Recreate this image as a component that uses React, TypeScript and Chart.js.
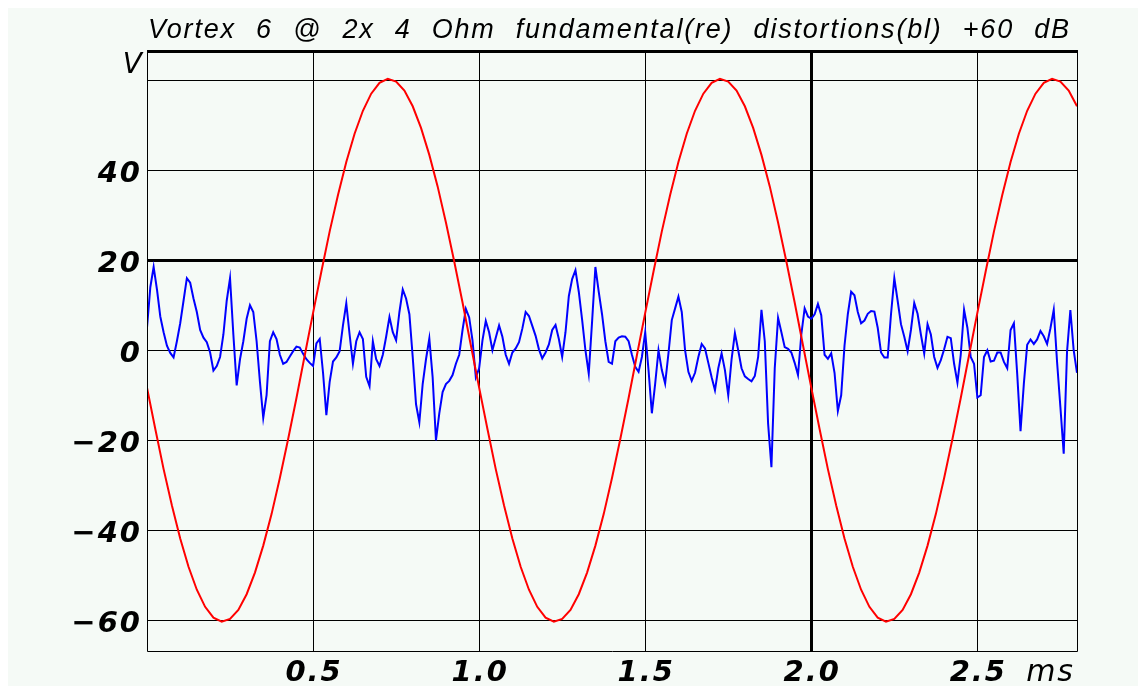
import { useEffect, useRef } from "react";
import { Chart, registerables } from "chart.js";

Chart.register(...registerables);

// ---- text ----
const TITLE = "Vortex 6 @ 2x 4 Ohm fundamental(re) distortions(bl) +60 dB";
const Y_UNIT = "V";
const X_UNIT = "ms";

// ---- axes ----
const X_MIN = 0;
const X_MAX = 2.8;
const Y_MIN = -66.7;
const Y_MAX = 66.7;
const X_TICKS = [0.5, 1.0, 1.5, 2.0, 2.5];
const X_TICK_LABELS = ["0.5", "1.0", "1.5", "2.0", "2.5"];
const Y_TICKS = [-60, -40, -20, 0, 20, 40, 60];
const Y_LABEL_TICKS = [-60, -40, -20, 0, 20, 40];
const Y_TICK_LABELS = ["\u221260", "\u221240", "\u221220", "0", "20", "40"];
const X_BOLD_TICK = 2.0;
const Y_BOLD_TICK = 20;

// ---- series ----
// fundamental (red), sampled every 0.025 ms, values in V read off the picture
const FUND_STEP_MS = 0.025;
const fundamental = [
  -8.3, -17.5, -26.4, -34.5, -41.8, -48.1, -53.2, -57.0, -59.4, -60.3,
  -59.7, -57.7, -54.2, -49.4, -43.4, -36.4, -28.4, -19.7, -10.6, -1.1,
  8.3, 17.5, 26.4, 34.5, 41.8, 48.1, 53.2, 57.0, 59.4, 60.3,
  59.7, 57.7, 54.2, 49.4, 43.4, 36.4, 28.4, 19.7, 10.6, 1.1,
  -8.3, -17.5, -26.4, -34.5, -41.8, -48.1, -53.2, -57.0, -59.4, -60.3,
  -59.7, -57.7, -54.2, -49.4, -43.4, -36.4, -28.4, -19.7, -10.6, -1.1,
  8.3, 17.5, 26.4, 34.5, 41.8, 48.1, 53.2, 57.0, 59.4, 60.3,
  59.7, 57.7, 54.2, 49.4, 43.4, 36.4, 28.4, 19.7, 10.6, 1.1,
  -8.3, -17.5, -26.4, -34.5, -41.8, -48.1, -53.2, -57.0, -59.4, -60.3,
  -59.7, -57.7, -54.2, -49.4, -43.4, -36.4, -28.4, -19.7, -10.6, -1.1,
  8.3, 17.5, 26.4, 34.5, 41.8, 48.1, 53.2, 57.0, 59.4, 60.3,
  59.7, 57.7, 54.2,
];

// distortions (blue, +60 dB), sampled every 0.01 ms
const DIST_STEP_MS = 0.01;
const distortions = [
  5, 14, 18.5, 13.5, 7.5, 4, 1, -0.6, -1.6, 2,
  6, 11, 16, 15, 11.5, 8.5, 4.5, 2.8, 1.8, -0.5,
  -4.5, -3.5, -1.5, 3.5, 11, 16, 3.5, -7.8, -2, 2,
  7, 10, 8.5, 2, -7, -15,
  -10, 2, 4, 2.5, -1, -3, -2.6, -1.4, -0.2, 0.8,
  0.6, -0.8, -2, -2.8, -3.5, 1.5, 2.5, -5, -14.4, -7,
  -2.5, -1.6, -0.2, 5.5, 10.4, 3.5, -3, 2, 4, 2.5,
  -5.9, -8, 2, -2, -3.5, -1,
  3, 7.4, 4, 2.2, 8.5, 13.5, 11.5, 8, -1.5, -12,
  -16, -7.5, -2, 2.6, -6, -20, -14, -9.3, -7.5, -6.8,
  -5.5, -3, -1, 4.5, 9.2, 7.3, 2.2, -6, -4, 2.2,
  6.5, 4, 0, 2.8, 5.5, 3,
  -1, -3, -0.5, 0.4, 1.8, 4.8, 8.5, 7.6, 5.4, 3.2,
  0.2, -1.8, -0.5, 1.3, 4.5, 5.6, 2.5, -1.5, 4, 12,
  15.8, 17.8, 13, 6.8, 0, -5.2, 6.3, 18.5, 13, 8,
  2, -2.6, -3, 2, 2.8, 3.1,
  3, 2, -1, -3.7, -4.8, -1.5, 4, -4.4, -14, -7.4,
  0, -4.4, -7.4, -0.7, 6.7, 9.3, 11.9, 8.5, 0, -4.8,
  -6.8, -5, -1.5, 1.4, 0.4, -2.8, -6, -8.9, -4, -0.7,
  -4.4, -10, -2, 3.8, 0, -4,
  -5.8, -6.4, -6.9, -5.7, -1.5, 9, 2, -16.3, -26, -4,
  7.2, 4, 0.7, 0.3, -0.5, -2.8, -5.5, 3.5, 9.3, 7.5,
  7, 8, 10.3, 7.8, -1, -1.9, -0.7, -5, -13.5, -10,
  1, 8, 13, 12.2, 8.5, 6,
  6.6, 8.1, 8.7, 8.6, 5, -0.5, -1.6, -1.6, 8, 16,
  11, 5.8, 3, -0.2, 4.5, 10.5, 8.1, 3.5, -0.7, 5.8,
  3.5, -1.5, -3.9, -2.2, 0.2, 3, 2.7, -3, -7.2, -1,
  9, 5, -1.5, -3, -10.5, -10,
  -1.5, 0, -2.5, -2.3, -0.5, -0.5, -2.6, -4, 4.5, 6,
  -5.3, -18, -7.4, 1.2, 2.4, 1.4, 2.4, 4.3, 3.1, 1.4,
  4.9, 9, -2.6, -12.6, -23, -0.3, 8.9, 0, -5,
];

// ---- styling ----
const CANVAS_W = 1138;
const CANVAS_H = 678;
const BG = "#f5faf6";
const RED = "#ff0000";
const BLUE = "#0000ff";
const TITLE_FONT = "italic 27px 'Liberation Sans'";
const TICK_FONT = "italic bold 29px 'DejaVu Sans'";
const UNIT_FONT = "italic 28px 'DejaVu Sans'";

const decor = {
  id: "decor",
  beforeDraw(chart: any) {
    const { ctx, width, height } = chart;
    ctx.save();
    ctx.fillStyle = BG;
    ctx.fillRect(0, 0, width, height);
    ctx.restore();
  },
  afterDraw(chart: any) {
    const { ctx, chartArea: a, scales } = chart;
    const xs = scales.x;
    const ys = scales.y;
    ctx.save();
    // frame
    ctx.strokeStyle = "#000";
    ctx.lineWidth = 1;
    ctx.beginPath();
    ctx.moveTo(Math.round(a.left) + 0.5, a.top);
    ctx.lineTo(Math.round(a.left) + 0.5, Math.round(a.bottom) + 0.5);
    ctx.lineTo(Math.round(a.right) + 0.5, Math.round(a.bottom) + 0.5);
    ctx.lineTo(Math.round(a.right) + 0.5, a.top);
    ctx.stroke();
    ctx.lineWidth = 3;
    ctx.beginPath();
    ctx.moveTo(a.left, Math.round(a.top) + 1.5);
    ctx.lineTo(a.right + 1, Math.round(a.top) + 1.5);
    ctx.stroke();

    ctx.fillStyle = "#000";
    ctx.textBaseline = "alphabetic";
    // title: words spread over the plot width
    ctx.font = TITLE_FONT;
    const ls = 1.8;
    (ctx as any).letterSpacing = ls + "px";
    const words = TITLE.split(" ");
    const widths = words.map((w: string) => ctx.measureText(w).width - ls);
    const total = widths.reduce((s: number, w: number) => s + w, 0);
    const titleLeft = a.left + 1;
    const titleRight = a.right - 8;
    const gap = (titleRight - titleLeft - total) / (words.length - 1);
    ctx.textAlign = "left";
    let cx = titleLeft;
    words.forEach((w: string, i: number) => {
      ctx.fillText(w, cx, 30);
      cx += widths[i] + gap;
    });

    // y tick labels
    ctx.font = TICK_FONT;
    const tls = 2;
    (ctx as any).letterSpacing = tls + "px";
    ctx.textAlign = "right";
    Y_LABEL_TICKS.forEach((v, i) => {
      ctx.fillText(Y_TICK_LABELS[i], a.left - 7 + tls, ys.getPixelForValue(v) + 12);
    });
    // x tick labels
    ctx.textAlign = "center";
    X_TICKS.forEach((v, i) => {
      ctx.fillText(X_TICK_LABELS[i], xs.getPixelForValue(v) + tls / 2, a.bottom + 30);
    });
    // units
    ctx.font = "italic 30px 'DejaVu Sans'";
    ctx.textAlign = "right";
    ctx.fillText(X_UNIT, a.right - 4 + tls, a.bottom + 30);
    ctx.font = UNIT_FONT;
    ctx.fillText(Y_UNIT, a.left - 5 + tls, a.top + 23);
    ctx.restore();
  },
};

export default function App() {
  const ref = useRef<HTMLCanvasElement | null>(null);
  useEffect(() => {
    document.documentElement.style.overflow = "hidden";
    document.body.style.overflow = "hidden";
    const canvas = ref.current;
    if (!canvas) return;
    const chart = new Chart(canvas, {
      type: "line",
      data: {
        datasets: [
          {
            label: "fundamental",
            data: fundamental.map((v, i) => ({ x: i * FUND_STEP_MS, y: v })),
            borderColor: RED,
            borderWidth: 2,
            pointRadius: 0,
            tension: 0,
            order: 0,
          },
          {
            label: "distortions",
            data: distortions.map((v, i) => ({ x: i * DIST_STEP_MS, y: v })),
            borderColor: BLUE,
            borderWidth: 2,
            pointRadius: 0,
            tension: 0,
            order: 1,
          },
        ],
      },
      options: {
        animation: false,
        responsive: false,
        devicePixelRatio: 1,
        layout: { padding: { left: 139, right: 69, top: 42, bottom: 35.5 } },
        plugins: {
          legend: { display: false },
          title: { display: false },
          tooltip: { enabled: false },
        },
        scales: {
          x: {
            type: "linear",
            min: X_MIN,
            max: X_MAX,
            afterBuildTicks: (s: any) => {
              s.ticks = X_TICKS.map((v) => ({ value: v }));
            },
            ticks: { display: false },
            border: { display: false },
            grid: {
              drawTicks: false,
              color: "#000",
              lineWidth: (c: any) => (c.tick && c.tick.value === X_BOLD_TICK ? 3 : 1),
            },
          },
          y: {
            type: "linear",
            min: Y_MIN,
            max: Y_MAX,
            afterBuildTicks: (s: any) => {
              s.ticks = Y_TICKS.map((v) => ({ value: v }));
            },
            ticks: { display: false },
            border: { display: false },
            grid: {
              drawTicks: false,
              color: "#000",
              lineWidth: (c: any) => (c.tick && c.tick.value === Y_BOLD_TICK ? 3 : 1),
            },
          },
        },
      },
      plugins: [decor],
    } as any);
    return () => chart.destroy();
  }, []);
  return (
    <canvas
      ref={ref}
      width={CANVAS_W}
      height={CANVAS_H}
      style={{ display: "block", width: CANVAS_W, height: CANVAS_H }}
    />
  );
}
